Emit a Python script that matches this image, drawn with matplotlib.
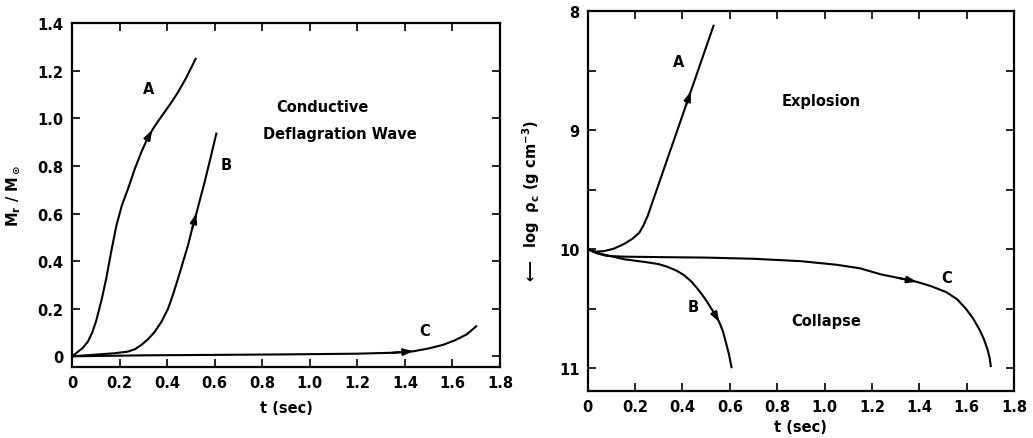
import matplotlib
matplotlib.use("Agg")
import matplotlib.pyplot as plt

plt.rcParams['font.family'] = 'DejaVu Sans'
plt.rcParams['font.weight'] = 'bold'
plt.rcParams['axes.labelweight'] = 'bold'
plt.rcParams['mathtext.default'] = 'bf'

# --- left panel: M_r / M_sun vs t ---
tA = [0, 0.02, 0.045, 0.067, 0.085, 0.102, 0.125, 0.144, 0.165, 0.187, 0.21, 0.236,
      0.265, 0.292, 0.315, 0.337, 0.36, 0.39, 0.42, 0.446, 0.48, 0.52]
mA = [0, 0.015, 0.035, 0.062, 0.10, 0.15, 0.24, 0.327, 0.44, 0.551, 0.635, 0.705,
      0.79, 0.859, 0.91, 0.95, 0.985, 1.027, 1.07, 1.11, 1.17, 1.25]

tB = [0, 0.1, 0.18, 0.236, 0.265, 0.292, 0.32, 0.348, 0.376, 0.404, 0.425, 0.446,
      0.468, 0.488, 0.505, 0.523, 0.54, 0.558, 0.583, 0.607]
mB = [0, 0.007, 0.013, 0.02, 0.03, 0.048, 0.072, 0.103, 0.145, 0.2, 0.26, 0.327,
      0.4, 0.467, 0.535, 0.6, 0.665, 0.733, 0.835, 0.936]

tC = [0, 0.3, 0.6, 0.9, 1.2, 1.35, 1.435, 1.5, 1.56, 1.61, 1.66, 1.70]
mC = [0, 0.004, 0.006, 0.008, 0.011, 0.015, 0.021, 0.033, 0.048, 0.067, 0.092, 0.126]

# --- right panel: log rho_c vs t ---
tA_r = [0, 0.035, 0.07, 0.11, 0.154, 0.19, 0.218, 0.235, 0.253, 0.275, 0.295, 0.323,
        0.351, 0.372, 0.393, 0.414, 0.435, 0.46, 0.485, 0.508, 0.531]
rA = [10, 10.02, 10.015, 9.995, 9.955, 9.91, 9.86, 9.8, 9.72, 9.594, 9.479, 9.318,
      9.157, 9.037, 8.916, 8.796, 8.675, 8.532, 8.388, 8.256, 8.124]

tB_r = [0, 0.03, 0.07, 0.154, 0.253, 0.3, 0.337, 0.375, 0.407, 0.437, 0.463, 0.49,
        0.513, 0.535, 0.555, 0.571, 0.583, 0.596, 0.607]
rB = [10, 10.025, 10.045, 10.084, 10.11, 10.125, 10.148, 10.18, 10.218, 10.27, 10.33,
      10.4, 10.47, 10.54, 10.61, 10.69, 10.78, 10.88, 10.99]

tC_r = [0, 0.04, 0.08, 0.15, 0.3, 0.5, 0.7, 0.9, 1.05, 1.15, 1.236, 1.31, 1.389, 1.45,
        1.514, 1.56, 1.597, 1.627, 1.653, 1.672, 1.688, 1.697, 1.702]
rC = [10, 10.035, 10.056, 10.062, 10.066, 10.07, 10.08, 10.1, 10.13, 10.16, 10.21, 10.24,
      10.273, 10.31, 10.36, 10.42, 10.5, 10.58, 10.67, 10.75, 10.84, 10.91, 10.98]

x_ticks = [0, 0.2, 0.4, 0.6, 0.8, 1.0, 1.2, 1.4, 1.6, 1.8]
x_labels = ["0", "0.2", "0.4", "0.6", "0.8", "1.0", "1.2", "1.4", "1.6", "1.8"]
m_ticks = [0, 0.2, 0.4, 0.6, 0.8, 1.0, 1.2, 1.4]
m_labels = ["0", "0.2", "0.4", "0.6", "0.8", "1.0", "1.2", "1.4"]
r_ticks = [8, 9, 10, 11]
r_minor = [8.5, 9.5, 10.5]

FS = 10.5
LW = 1.5


def arrow_on(ax, x, y, i):
    # small filled arrowhead along the curve, tip at point i
    ax.annotate("", xy=(x[i], y[i]), xytext=(x[i - 1], y[i - 1]),
                arrowprops=dict(arrowstyle="-|>,head_length=0.7,head_width=0.25",
                                color="k", lw=LW, shrinkA=0, shrinkB=0,
                                mutation_scale=8))


def style(ax):
    for s in ax.spines.values():
        s.set_linewidth(1.6)
    ax.tick_params(which="both", direction="in", top=True, right=True,
                   length=6, width=1.2, labelsize=FS, pad=6)


fig = plt.figure(figsize=(10.33, 4.39), dpi=100)

# left
ax1 = fig.add_axes([0.0697, 0.1617, 0.4143, 0.7833])
ax1.plot(tA, mA, color="k", lw=LW)
ax1.plot(tB, mB, color="k", lw=LW)
ax1.plot(tC, mC, color="k", lw=LW)
arrow_on(ax1, tA, mA, tA.index(0.337))
arrow_on(ax1, tB, mB, tB.index(0.523))
arrow_on(ax1, tC, mC, tC.index(1.435))
ax1.set_xlim(0, 1.8)
ax1.set_ylim(-0.045, 1.4)
ax1.set_xticks(x_ticks, x_labels)
ax1.set_yticks(m_ticks, m_labels)
style(ax1)
ax1.set_xlabel("t (sec)", fontsize=FS, labelpad=7)
ax1.set_ylabel(r"M$_r$ / M$_\odot$", fontsize=FS, labelpad=11)
ax1.text(0.323, 1.126, "A", fontsize=FS, ha="center", va="center")
ax1.text(0.65, 0.805, "B", fontsize=FS, ha="center", va="center")
ax1.text(1.484, 0.109, "C", fontsize=FS, ha="center", va="center")
ax1.text(1.052, 1.05, "Conductive", fontsize=FS, ha="center", va="center")
ax1.text(1.127, 0.937, "Deflagration Wave", fontsize=FS, ha="center", va="center")

# right
ax2 = fig.add_axes([0.569, 0.107, 0.4126, 0.8657])
ax2.plot(tA_r, rA, color="k", lw=LW)
ax2.plot(tB_r, rB, color="k", lw=LW)
ax2.plot(tC_r, rC, color="k", lw=LW)
arrow_on(ax2, tA_r, rA, tA_r.index(0.435))
arrow_on(ax2, tB_r, rB, tB_r.index(0.555))
arrow_on(ax2, tC_r, rC, tC_r.index(1.389))
ax2.set_xlim(0, 1.8)
ax2.set_ylim(11.19, 8)
ax2.set_xticks(x_ticks, x_labels)
ax2.set_yticks(r_ticks)
ax2.set_yticks(r_minor, minor=True)
style(ax2)
ax2.tick_params(which="minor", length=6, width=1.2)
ax2.set_xlabel("t (sec)", fontsize=FS, labelpad=3)
ax2.set_ylabel(r"$\longleftarrow$  log  $\rho_c$ (g cm$^{-3}$)", fontsize=FS, labelpad=12)
ax2.text(0.384, 8.42, "A", fontsize=FS, ha="center", va="center")
ax2.text(0.446, 10.48, "B", fontsize=FS, ha="center", va="center")
ax2.text(1.515, 10.235, "C", fontsize=FS, ha="center", va="center")
ax2.text(0.987, 8.753, "Explosion", fontsize=FS, ha="center", va="center")
ax2.text(1.005, 10.6, "Collapse", fontsize=FS, ha="center", va="center")

fig.savefig("out.png", dpi=100)
